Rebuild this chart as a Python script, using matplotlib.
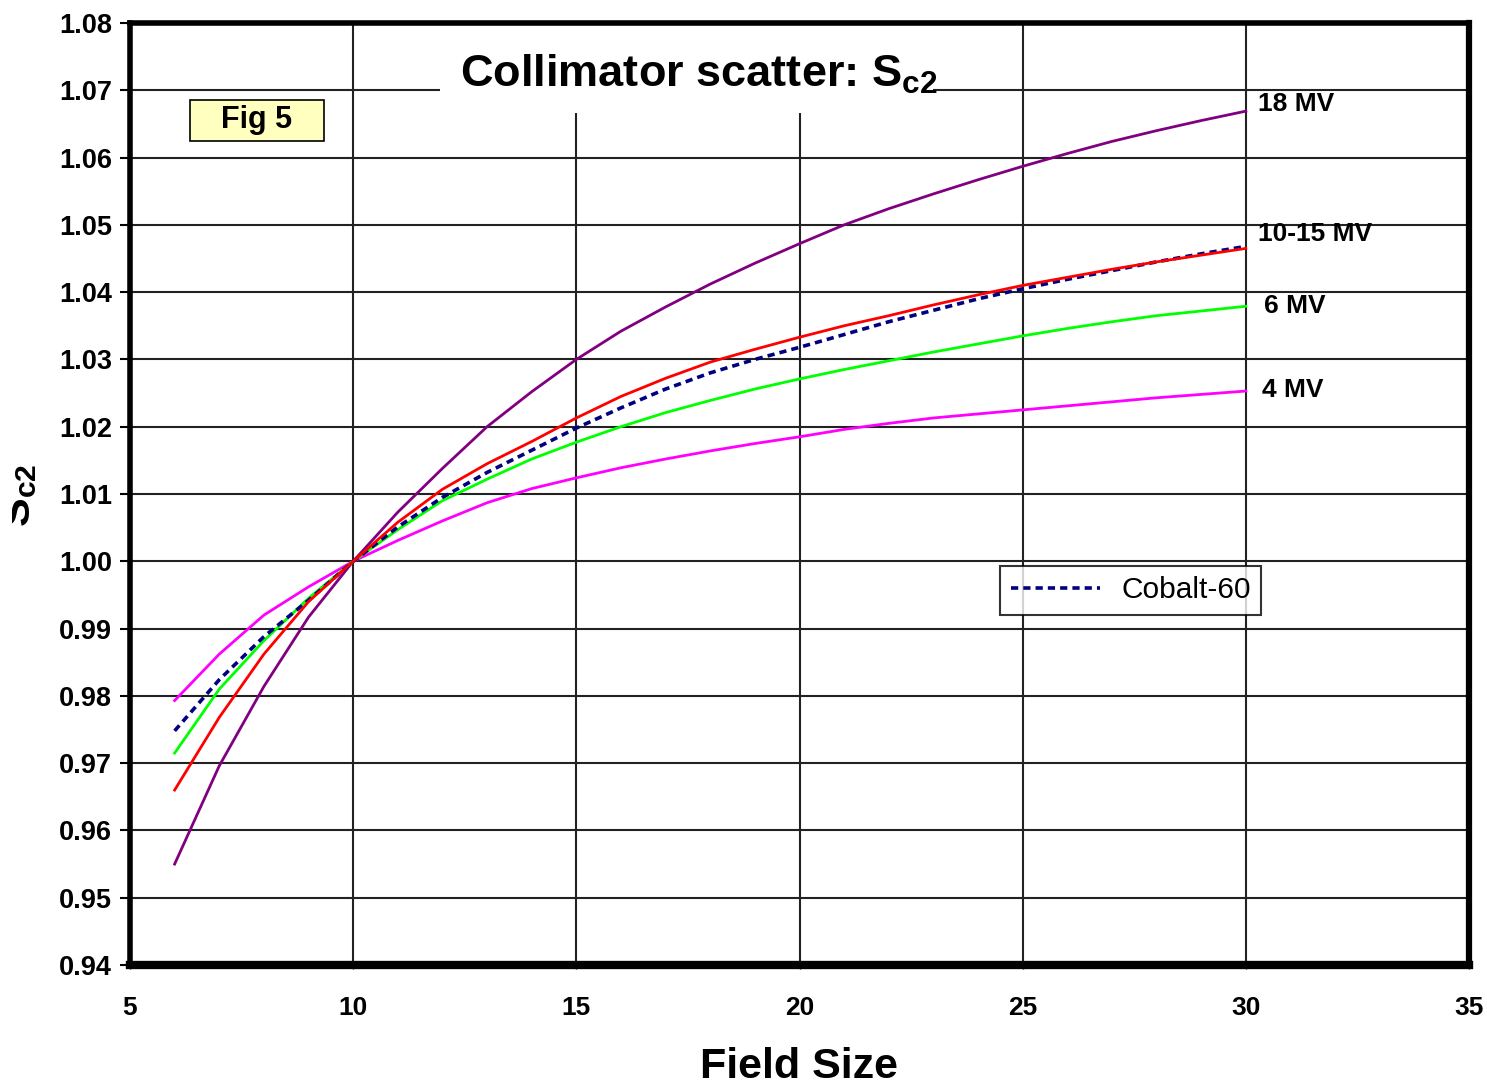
import matplotlib
matplotlib.use("Agg")
import matplotlib.pyplot as plt
from matplotlib.patches import Rectangle

plt.rcParams['font.family'] = ['Liberation Sans', 'DejaVu Sans']
plt.rcParams['mathtext.fontset'] = 'custom'
plt.rcParams['mathtext.rm'] = 'Liberation Sans'
plt.rcParams['mathtext.bf'] = 'Liberation Sans:bold'
plt.rcParams['mathtext.it'] = 'Liberation Sans:italic'

# ---- data ----
field_size = [6, 7, 8, 9, 10, 11, 12, 13, 14, 15, 16, 17, 18, 19, 20,
              21, 22, 23, 24, 25, 26, 27, 28, 29, 30]
mv18 = [0.9550, 0.9696, 0.9814, 0.9917, 1.0000, 1.0073, 1.0138, 1.0200, 1.0252, 1.0300,
        1.0342, 1.0378, 1.0412, 1.0443, 1.0472, 1.0500, 1.0524, 1.0546, 1.0567, 1.0587,
        1.0606, 1.0624, 1.0640, 1.0655, 1.0669]
mv10_15 = [0.9660, 0.9768, 0.9862, 0.9940, 1.0000, 1.0058, 1.0107, 1.0145, 1.0178, 1.0213,
           1.0245, 1.0272, 1.0296, 1.0315, 1.0333, 1.0350, 1.0365, 1.0381, 1.0396, 1.0410,
           1.0422, 1.0434, 1.0445, 1.0455, 1.0465]
cobalt60 = [0.9748, 0.9824, 0.9888, 0.9942, 1.0000, 1.0051, 1.0095, 1.0132, 1.0165, 1.0198,
            1.0228, 1.0256, 1.0280, 1.0300, 1.0318, 1.0337, 1.0356, 1.0373, 1.0390, 1.0405,
            1.0419, 1.0432, 1.0445, 1.0457, 1.0468]
mv6 = [0.9715, 0.9810, 0.9882, 0.9945, 1.0000, 1.0047, 1.0090, 1.0122, 1.0152, 1.0177,
       1.0200, 1.0221, 1.0239, 1.0256, 1.0271, 1.0285, 1.0298, 1.0311, 1.0323, 1.0335,
       1.0346, 1.0356, 1.0365, 1.0372, 1.0379]
mv4 = [0.9793, 0.9862, 0.9920, 0.9962, 1.0000, 1.0031, 1.0060, 1.0087, 1.0108, 1.0124,
       1.0139, 1.0152, 1.0164, 1.0175, 1.0185, 1.0196, 1.0205, 1.0213, 1.0219, 1.0225,
       1.0231, 1.0237, 1.0243, 1.0248, 1.0253]

x_ticks = [5, 10, 15, 20, 25, 30, 35]
y_ticks = [0.94, 0.95, 0.96, 0.97, 0.98, 0.99, 1.00, 1.01, 1.02, 1.03, 1.04, 1.05, 1.06, 1.07, 1.08]
curve_labels = ['18 MV', '10-15 MV', '6 MV', '4 MV']
curve_label_y = [1.0680, 1.0486, 1.0380, 1.0255]

# ---- figure ----
fig = plt.figure(figsize=(14.87, 10.86), dpi=100)
ax = fig.add_axes([130/1487, 1-965/1086, 1339/1487, 942/1086])

ax.plot(field_size, mv18, color='#800080', lw=2.0, zorder=3)
ax.plot(field_size, mv4, color='#FF00FF', lw=2.0, zorder=3)
ax.plot(field_size, mv6, color='#00FF00', lw=2.0, zorder=3)
ax.plot(field_size, cobalt60, color='#000080', lw=2.6, linestyle=(0, (2.0, 1.4)),
        label='Cobalt-60', zorder=3)
ax.plot(field_size, mv10_15, color='#FF0000', lw=2.0, zorder=3.1)

ax.set_xlim(5, 35)
ax.set_ylim(0.94, 1.08)
ax.set_xticks(x_ticks)
ax.set_yticks(y_ticks)
ax.set_xticklabels([str(v) for v in x_ticks])
ax.set_yticklabels([f'{v:.2f}' for v in y_ticks])
ax.grid(True, color='#222222', lw=1.5)

for lbl in ax.get_xticklabels() + ax.get_yticklabels():
    lbl.set_fontweight('bold')
ax.tick_params(axis='y', length=7, width=1.5, pad=6, labelsize=19.5)
ax.tick_params(axis='x', length=3, width=1.0, pad=19, labelsize=19)

ax.spines['left'].set_linewidth(4)
ax.spines['top'].set_linewidth(4)
ax.spines['right'].set_linewidth(4.5)
ax.spines['bottom'].set_linewidth(6)

# title with white backing covering grid
ax.add_patch(Rectangle((0.2315, 0.9045), 0.3685, 0.0955, transform=ax.transAxes,
                       facecolor='white', edgecolor='none', zorder=1.7))
ax.text(0.2465, 0.932, r'Collimator scatter: S$_{\mathbf{c2}}$', transform=ax.transAxes,
        fontsize=32.5, fontweight='bold', ha='left', va='baseline', zorder=4)

# Fig 5 box
ax.add_patch(Rectangle((0.0448, 0.8747), 0.1001, 0.0435, transform=ax.transAxes,
                       facecolor='#FFFFC0', edgecolor='black', lw=1.2, zorder=4))
ax.text(0.0948, 0.8965, 'Fig 5', transform=ax.transAxes, fontsize=22,
        fontweight='bold', ha='center', va='center', zorder=5)

# curve labels
for lab, yv, xv in zip(curve_labels, curve_label_y, [30.27, 30.27, 30.41, 30.36]):
    ax.text(xv, yv, lab, fontsize=19, fontweight='bold', ha='left', va='center', zorder=5)

leg = ax.legend(loc='upper left', bbox_to_anchor=(0.6498, 0.4236), fontsize=21.5,
                frameon=True, fancybox=False, borderaxespad=0, borderpad=0.35,
                handlelength=3.0, handletextpad=0.7)
leg.get_frame().set_edgecolor('black')
leg.get_frame().set_linewidth(1.5)

ax.set_xlabel('Field Size', fontsize=31, fontweight='bold', labelpad=20)
fig.text(39/1487, 1-495/1086, r'$\mathbf{S_{c2}}$', rotation=90, fontsize=31,
         ha='right', va='center')
# left edge of the original image is cropped through the label
fig.patches.append(Rectangle((0, 0), 12/1487, 1, transform=fig.transFigure,
                             facecolor='white', edgecolor='none', zorder=10))

fig.savefig('out.png', dpi=100)
